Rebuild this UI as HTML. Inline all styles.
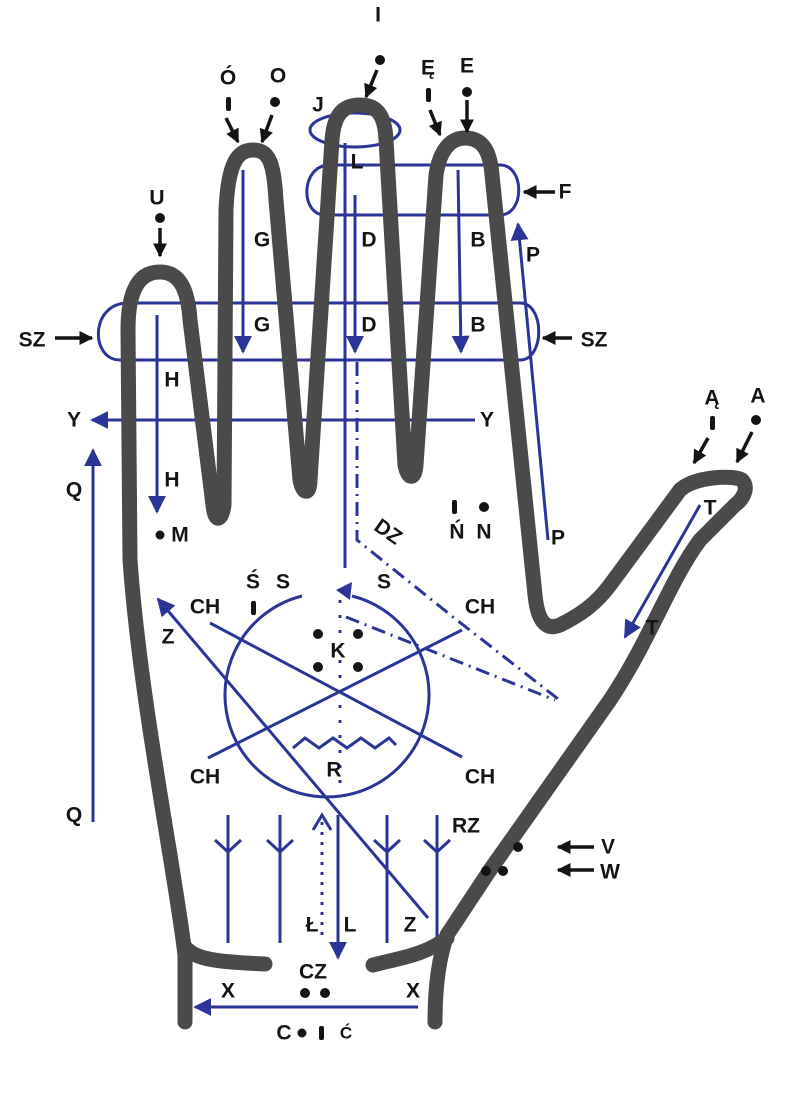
<!DOCTYPE html>
<html><head><meta charset="utf-8"><style>
html,body{margin:0;padding:0;background:#fff}
svg{display:block}
text{font-family:"Liberation Sans",sans-serif;font-weight:bold;font-size:21px;fill:#141414;text-anchor:middle;dominant-baseline:central}
.b{stroke:#2b3597;stroke-width:3;fill:none}
.k{stroke:#141414;stroke-width:3.5;fill:none}
</style></head><body>
<svg width="800" height="1103" viewBox="0 0 800 1103" xmlns="http://www.w3.org/2000/svg">
<defs>
<marker id="ba" viewBox="0 0 10 10" refX="9" refY="5" markerWidth="6" markerHeight="6" orient="auto" markerUnits="strokeWidth"><path d="M0,0 L10,5 L0,10 z" fill="#2b3597"/></marker>
<marker id="ka" viewBox="0 0 10 10" refX="9" refY="5" markerWidth="4" markerHeight="4" orient="auto" markerUnits="strokeWidth"><path d="M0,0 L10,5 L0,10 z" fill="#141414"/></marker>
</defs>

<path class="b" d="M128,303 L520,303 C545,303 545,360 520,360 L120,360 C90,360 90,303 128,303"/>
<path class="b" d="M330,165 L500,165 C525,165 525,215 500,215 L325,215 C300,215 300,165 330,165"/>
<ellipse class="b" cx="355" cy="130" rx="45" ry="17"/>

<line class="b" x1="243" y1="170" x2="243" y2="352" marker-end="url(#ba)"/>
<line class="b" x1="355" y1="195" x2="355" y2="352" marker-end="url(#ba)"/>
<line class="b" x1="458" y1="170" x2="461" y2="352" marker-end="url(#ba)"/>
<line class="b" x1="157" y1="315" x2="157" y2="512" marker-end="url(#ba)"/>
<line class="b" x1="345" y1="143" x2="345" y2="568"/>
<line class="b" x1="475" y1="420" x2="92" y2="420" marker-end="url(#ba)"/>
<line class="b" x1="93" y1="822" x2="93" y2="450" marker-end="url(#ba)"/>
<line class="b" x1="548" y1="540" x2="518" y2="224" marker-end="url(#ba)"/>
<line class="b" x1="700" y1="505" x2="625" y2="637" marker-end="url(#ba)"/>

<path class="b" d="M357,362 L357,540 L453,617 L562,702" stroke-dasharray="14,6,2,6"/>
<path class="b" d="M346,617 L555,700" stroke-dasharray="14,6,2,6"/>
<line class="b" x1="340" y1="600" x2="340" y2="792" stroke-dasharray="3,12"/>

<path class="b" d="M302,596 A102,102 0 1 0 352,596"/>
<path d="M336,590 L352,582 L350,600 z" fill="#2b3597"/>
<line class="b" x1="210" y1="623" x2="462" y2="757"/>
<line class="b" x1="208" y1="758" x2="462" y2="630"/>
<line class="b" x1="428" y1="918" x2="158" y2="599" marker-end="url(#ba)"/>
<polyline class="b" points="293,748 305,738 319,748 333,738 347,748 361,738 375,748 389,738 396,745"/>

<g class="b">
<line x1="228" y1="815" x2="228" y2="943"/><polyline points="215,840 228,852 241,840"/>
<line x1="280" y1="815" x2="280" y2="943"/><polyline points="267,840 280,852 293,840"/>
<line x1="387" y1="815" x2="387" y2="943"/><polyline points="374,840 387,852 400,840"/>
<line x1="437" y1="815" x2="437" y2="943"/><polyline points="424,840 437,852 450,840"/>
<line x1="322" y1="822" x2="322" y2="935" stroke-dasharray="3,7"/><polyline points="313,830 322,815 331,830"/>
</g>
<line class="b" x1="338" y1="815" x2="338" y2="958" marker-end="url(#ba)"/>
<line class="b" x1="418" y1="1007" x2="195" y2="1007" marker-end="url(#ba)"/>

<g fill="none" stroke="#4a4a4a" stroke-width="15" stroke-linecap="round" stroke-linejoin="round">
<path d="M185,1022 L185,955 C175,870 140,700 130,560 L128,330 C128,285 142,272 160,272 C180,272 188,290 190,320 L213,505 C215,525 222,520 224,505 L226,210 C228,162 238,150 253,150 C270,150 274,165 276,200 L300,480 C303,495 310,495 310,480 L332,140 C334,112 345,105 360,105 C377,105 385,115 386,140 L405,465 C408,480 415,480 416,465 L436,175 C440,148 452,138 465,138 C482,138 490,150 492,175 L535,595 C538,625 548,630 560,625 C580,615 595,605 610,585 L680,490 C695,476 735,475 742,480 C750,488 742,500 735,505 L700,540 C670,580 650,640 610,700 L490,870 L447,935 C438,960 435,990 435,1022"/>
<path d="M185,947 C195,960 220,962 265,964"/>
<path d="M373,965 C400,958 425,955 447,938"/>
</g>

<g class="k">
<line x1="160" y1="228" x2="160" y2="256" marker-end="url(#ka)"/>
<line x1="226" y1="118" x2="238" y2="142" marker-end="url(#ka)"/>
<line x1="272" y1="115" x2="262" y2="142" marker-end="url(#ka)"/>
<line x1="377" y1="70" x2="366" y2="97" marker-end="url(#ka)"/>
<line x1="430" y1="110" x2="440" y2="135" marker-end="url(#ka)"/>
<line x1="467" y1="100" x2="467" y2="132" marker-end="url(#ka)"/>
<line x1="555" y1="192" x2="524" y2="192" marker-end="url(#ka)"/>
<line x1="55" y1="338" x2="92" y2="338" marker-end="url(#ka)"/>
<line x1="572" y1="338" x2="543" y2="338" marker-end="url(#ka)"/>
<line x1="708" y1="438" x2="694" y2="463" marker-end="url(#ka)"/>
<line x1="752" y1="432" x2="737" y2="462" marker-end="url(#ka)"/>
<line x1="594" y1="847" x2="558" y2="847" marker-end="url(#ka)"/>
<line x1="594" y1="870" x2="558" y2="870" marker-end="url(#ka)"/>
</g>

<g fill="#141414">
<circle cx="160" cy="218" r="5"/><circle cx="275" cy="102" r="5"/><circle cx="380" cy="60" r="5"/><circle cx="467" cy="92" r="5"/>
<circle cx="756" cy="420" r="5"/><circle cx="484" cy="507" r="5"/><circle cx="160" cy="535" r="4.5"/>
<circle cx="318" cy="634" r="5"/><circle cx="358" cy="634" r="5"/><circle cx="318" cy="667" r="5"/><circle cx="358" cy="667" r="5"/>
<circle cx="518" cy="847" r="5"/><circle cx="486" cy="871" r="5"/><circle cx="503" cy="871" r="5"/>
<circle cx="305" cy="993" r="5"/><circle cx="325" cy="993" r="5"/><circle cx="302" cy="1033" r="4.5"/>
<rect x="226" y="97" width="5" height="14" rx="2"/><rect x="426" y="88" width="5" height="14" rx="2"/>
<rect x="710" y="416" width="5" height="14" rx="2"/><rect x="452" y="500" width="5" height="14" rx="2"/>
<rect x="251" y="601" width="5" height="14" rx="2"/><rect x="319" y="1026" width="5" height="14" rx="2"/>
</g>

<text x="157" y="198">U</text><text x="228" y="78">Ó</text><text x="278" y="76">O</text>
<text x="378" y="15">I</text><text x="428" y="68">Ę</text><text x="467" y="66">E</text>
<text x="318" y="105">J</text><text x="357" y="162">L</text>
<text x="262" y="240">G</text><text x="262" y="325">G</text>
<text x="369" y="240">D</text><text x="369" y="325">D</text>
<text x="478" y="240">B</text><text x="478" y="325">B</text>
<text x="172" y="380">H</text><text x="172" y="480">H</text>
<text x="565" y="192">F</text><text x="533" y="255">P</text><text x="558" y="538">P</text>
<text x="32" y="340">SZ</text><text x="594" y="340">SZ</text>
<text x="74" y="420">Y</text><text x="487" y="420">Y</text>
<text x="74" y="490">Q</text><text x="74" y="815">Q</text>
<text x="180" y="535">M</text><text x="457" y="532">Ń</text><text x="484" y="532">N</text>
<text x="388" y="532" transform="rotate(35 388 532)">DZ</text>
<text x="712" y="398">Ą</text><text x="758" y="396">A</text>
<text x="710" y="508">T</text><text x="652" y="628">T</text>
<text x="253" y="582">Ś</text><text x="283" y="582">S</text><text x="384" y="582">S</text>
<text x="205" y="607">CH</text><text x="480" y="607">CH</text><text x="205" y="777">CH</text><text x="480" y="777">CH</text>
<text x="168" y="637">Z</text><text x="338" y="651">K</text><text x="334" y="770">R</text>
<text x="466" y="826">RZ</text><text x="312" y="925">Ł</text><text x="350" y="925">L</text><text x="410" y="925">Z</text>
<text x="313" y="972">CZ</text><text x="228" y="991">X</text><text x="413" y="991">X</text>
<text x="284" y="1033">C</text><text x="346" y="1033" style="font-size:17px">Ć</text>
<text x="608" y="847">V</text><text x="610" y="872">W</text>
</svg>
</body></html>
